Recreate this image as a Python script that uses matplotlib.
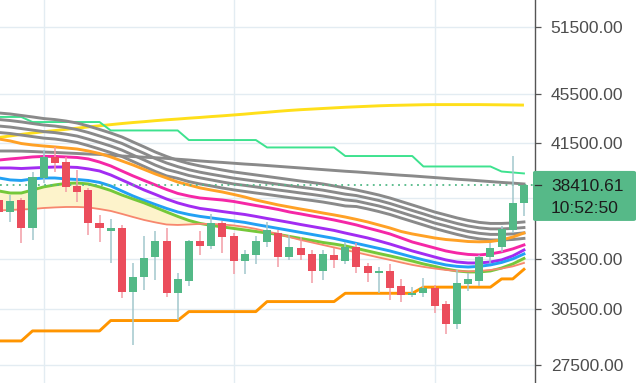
import matplotlib
matplotlib.use("Agg")
import matplotlib.pyplot as plt
from matplotlib.patches import FancyBboxPatch
from matplotlib.lines import Line2D
from matplotlib.ticker import NullLocator, FixedLocator, FixedFormatter

plt.rcParams['font.family'] = ['Liberation Sans', 'DejaVu Sans']

# ---------------- data ----------------
opens = [37350, 36530, 37350, 35460, 38910, 40460, 40080, 38340, 38050, 35790, 35270, 35460,
         31490, 32380, 33600, 34620, 31430, 32140, 34620, 34300, 35790, 34940, 33350, 33730,
         34550, 35130, 33600, 34170, 33790, 32740, 33730, 33350, 34230, 33050, 32620, 32740,
         31840, 31310, 31430, 31720, 30800, 29670, 31960, 32140, 33600, 34230, 35330, 37150]
highs = [37630, 37700, 37490, 39350, 40990, 41220, 40460, 39490, 38200, 36330, 36060, 35660,
         33230, 34940, 35270, 35460, 32620, 34680, 35270, 36400, 35930, 35130, 34040, 34940,
         35860, 35330, 35000, 34870, 34040, 34040, 34170, 34550, 34490, 33230, 32990, 33170,
         32260, 31780, 32320, 31900, 30970, 32800, 32620, 33730, 34490, 35590, 40530, 38410.61]
lows = [36330, 35860, 34490, 34680, 38550, 39350, 37910, 37220, 35000, 34550, 33230, 31140,
        28540, 31610, 32200, 31200, 29890, 31840, 33730, 34110, 33850, 32560, 32560, 33170,
        34230, 32990, 33420, 33420, 32020, 32200, 32920, 33170, 32620, 32080, 31430, 31020,
        30910, 31200, 31200, 30290, 29130, 29400, 31550, 31840, 33230, 33920, 35130, 36260]
closes = [36530, 37280, 35460, 38980, 40460, 40010, 38270, 37910, 35790, 35460, 35460, 31490,
          32380, 33540, 34620, 31430, 32260, 34620, 34300, 35790, 34870, 33350, 33790, 34620,
          35330, 33600, 34230, 33730, 32740, 33790, 33420, 34230, 32990, 32620, 32740, 31720,
          31310, 31430, 31720, 30680, 29670, 32020, 32260, 33600, 34170, 35400, 37150, 38410.61]

ma_yellow = [41950, 42070, 42190, 42300, 42400, 42490, 42590, 42680, 42780, 42870, 42960, 43050,
             43130, 43200, 43280, 43350, 43410, 43480, 43540, 43610, 43670, 43740, 43810, 43890,
             43960, 44040, 44110, 44170, 44220, 44270, 44320, 44370, 44410, 44450, 44490, 44520,
             44540, 44560, 44580, 44590, 44590, 44590, 44590, 44590, 44580, 44570, 44560, 44550]
ma_gray_slow = [40910, 40910, 40900, 40870, 40830, 40800, 40760, 40720, 40680, 40650, 40590, 40530,
                40490, 40440, 40400, 40350, 40290, 40230, 40160, 40100, 40050, 39990, 39930, 39880,
                39820, 39760, 39700, 39640, 39580, 39520, 39460, 39400, 39350, 39290, 39230, 39170,
                39110, 39060, 39000, 38940, 38880, 38820, 38770, 38710, 38650, 38590, 38540, 38480]
ma_gray_1 = [43900, 43820, 43700, 43580, 43450, 43370, 43250, 43090, 42850, 42580, 42300, 41990,
             41600, 41220, 40830, 40500, 40200, 39970, 39790, 39640, 39490, 39350, 39240, 39130,
             39020, 38910, 38800, 38690, 38590, 38480, 38340, 38200, 38050, 37880, 37700, 37490,
             37250, 37010, 36770, 36530, 36330, 36130, 35960, 35830, 35760, 35760, 35790, 35860]
ma_gray_2 = [43370, 43290, 43180, 43050, 42930, 42850, 42730, 42570, 42340, 42070, 41790, 41490,
             41100, 40730, 40340, 40010, 39740, 39510, 39330, 39180, 39040, 38900, 38790, 38680,
             38570, 38460, 38350, 38250, 38150, 38040, 37900, 37760, 37660, 37490, 37320, 37110,
             36870, 36630, 36400, 36160, 35960, 35760, 35590, 35470, 35400, 35400, 35430, 35490]
ma_gray_3 = [42850, 42770, 42650, 42530, 42410, 42330, 42210, 42060, 41820, 41560, 41290, 40980,
             40600, 40230, 39850, 39530, 39320, 39090, 38920, 38770, 38620, 38480, 38380, 38270,
             38160, 38050, 37950, 37840, 37740, 37630, 37500, 37360, 37280, 37110, 36940, 36730,
             36500, 36260, 36030, 35790, 35600, 35400, 35230, 35110, 35040, 35040, 35070, 35140]
ma_gray_4 = [42340, 42260, 42140, 42020, 41900, 41830, 41710, 41560, 41320, 41060, 40790, 40500,
             40120, 39750, 39380, 39060, 38880, 38650, 38480, 38340, 38190, 38060, 37950, 37840,
             37740, 37630, 37520, 37420, 37320, 37210, 37080, 36940, 36900, 36740, 36560, 36360,
             36120, 35890, 35660, 35430, 35230, 35040, 34870, 34750, 34680, 34680, 34710, 34780]
ma_orange = [41830, 41680, 41480, 41370, 41290, 41220, 41140, 41060, 40910, 40720, 40460, 40160,
             39860, 39530, 39200, 38910, 38620, 38410, 38200, 38050, 37910, 37740, 37560, 37350,
             37180, 37010, 36870, 36730, 36600, 36460, 36330, 36190, 36030, 35860, 35660, 35460,
             35230, 35070, 34940, 34810, 34710, 34650, 34580, 34560, 34580, 34680, 34870, 35130]
ma_magenta = [40230, 40310, 40380, 40460, 40500, 40500, 40460, 40420, 40310, 40080, 39790, 39420,
              39060, 38730, 38410, 38090, 37810, 37630, 37490, 37420, 37350, 37250, 37110, 36970,
              36840, 36700, 36530, 36400, 36260, 36130, 35990, 35830, 35660, 35460, 35270, 35070,
              34810, 34550, 34360, 34170, 33980, 33850, 33760, 33730, 33790, 33920, 34110, 34360]
ma_purple = [39640, 39640, 39600, 39640, 39680, 39710, 39710, 39680, 39570, 39420, 39130, 38770,
             38410, 38050, 37740, 37420, 37150, 36940, 36770, 36670, 36560, 36460, 36360, 36230,
             36090, 35960, 35830, 35690, 35560, 35430, 35300, 35130, 34970, 34810, 34620, 34420,
             34200, 33980, 33790, 33600, 33420, 33290, 33230, 33230, 33290, 33420, 33670, 34040]
ma_blue = [38910, 38770, 38730, 38840, 38910, 38910, 38840, 38800, 38730, 38590, 38340, 37980,
           37630, 37320, 37040, 36770, 36530, 36360, 36230, 36130, 36030, 35930, 35830, 35690,
           35560, 35430, 35300, 35170, 35040, 34910, 34780, 34620, 34460, 34300, 34140, 33980,
           33790, 33600, 33420, 33260, 33110, 33020, 32980, 33020, 33110, 33260, 33480, 33790]
ma_green = [37980, 37840, 37840, 38050, 38270, 38410, 38520, 38550, 38480, 38270, 38020, 37700,
            37420, 37150, 36840, 36530, 36230, 35960, 35760, 35630, 35530, 35430, 35330, 35230,
            35130, 35040, 34910, 34780, 34650, 34520, 34420, 34300, 34140, 33980, 33820, 33670,
            33510, 33350, 33170, 33020, 32860, 32740, 32680, 32680, 32740, 32920, 33170, 33510]
ma_salmon = [36630, 36670, 36700, 36730, 36800, 36840, 36870, 36870, 36840, 36730, 36600, 36400,
             36190, 35990, 35830, 35690, 35660, 35690, 35730, 35730, 35690, 35630, 35530, 35400,
             35230, 35070, 34870, 34680, 34520, 34360, 34200, 34040, 33890, 33730, 33570, 33420,
             33260, 33110, 32990, 32890, 32800, 32740, 32710, 32740, 32800, 32890, 33020, 33230]
channel_upper = [43580, 43580, 43580, 43170, 43170, 43170, 43170, 43170, 43170, 43170, 42500, 42500,
                 42500, 42500, 42500, 42500, 42500, 41750, 41750, 41750, 41750, 41750, 41750, 41750,
                 41180, 41180, 41180, 41180, 41180, 41180, 41180, 40530, 40530, 40530, 40530, 40530,
                 40530, 40530, 39750, 39750, 39750, 39750, 39750, 39750, 39750, 39380, 39310, 39240]
channel_lower = [28750, 28750, 28750, 29290, 29290, 29290, 29290, 29290, 29290, 29290, 29860, 29860,
                 29860, 29860, 29860, 29860, 29860, 30360, 30360, 30360, 30360, 30360, 30360, 30360,
                 30930, 30930, 30930, 30930, 30930, 30930, 30930, 31410, 31410, 31410, 31410, 31410,
                 31410, 31410, 31770, 31770, 31770, 31770, 31770, 31770, 31770, 32260, 32260, 32840]

price_ticks = [27500, 30500, 33500, 41500, 45500, 51500]
hidden_grid_prices = [37500]
vertical_grid_bars = [4, 21, 39]
last_price = 38410.61
countdown = "10:52:50"

# ---------------- figure ----------------
W, H = 641, 383
fig = plt.figure(figsize=(W / 100, H / 100), dpi=100)
fig.patch.set_facecolor('white')
ax = fig.add_axes([0, 0, 535 / W, 1])
ax.set_facecolor('white')
ax.set_yscale('log')
ax.set_ylim(26590, 54150)
ax.set_xlim(0.09, 47.99)

x = list(range(len(closes)))

grid_c = '#e3ecf2'
for v in price_ticks + hidden_grid_prices:
    ax.axhline(v, color=grid_c, lw=1.0, zorder=0)
for b in vertical_grid_bars:
    ax.axvline(b, color=grid_c, lw=1.0, zorder=0)

ax.fill_between(x, ma_green, ma_salmon, color='#fdf3cb', lw=0, zorder=1)

lw_main = 2.1
ax.plot(x, ma_yellow, color='#ffdf1a', lw=lw_main, zorder=2, solid_capstyle='butt')
ax.plot(x, channel_upper, color='#3ee28f', lw=1.4, zorder=2)
ax.plot(x, channel_lower, color='#ff9500', lw=lw_main, zorder=2)
for g in (ma_gray_slow, ma_gray_1, ma_gray_2, ma_gray_3, ma_gray_4):
    ax.plot(x, g, color='#8a8a8a', lw=lw_main, zorder=2)
ax.plot(x, ma_orange, color='#ffa126', lw=lw_main, zorder=2)
ax.plot(x, ma_magenta, color='#f527a6', lw=lw_main, zorder=2)
ax.plot(x, ma_purple, color='#a22cf2', lw=lw_main, zorder=2)
ax.plot(x, ma_blue, color='#22a1f4', lw=lw_main, zorder=2)
ax.plot(x, ma_green, color='#75c83a', lw=lw_main, zorder=2)
ax.plot(x, ma_salmon, color='#f7876e', lw=1.3, zorder=2)

ax.axhline(last_price, color='#53b987', lw=1.3, ls=(0, (1, 2.5)), zorder=2)

up_c, dn_c = '#53b987', '#eb4d5c'
up_w, dn_w = '#a2c7cd', '#f39ca5'
body_col = [up_c if c >= o else dn_c for o, c in zip(opens, closes)]
wick_col = [up_w if c >= o else dn_w for o, c in zip(opens, closes)]
ax.vlines(x, lows, highs, colors=wick_col, lw=1.1, zorder=3)
bottoms = [min(o, c) for o, c in zip(opens, closes)]
heights = [abs(c - o) for o, c in zip(opens, closes)]
ax.bar(x, heights, bottom=bottoms, width=0.72, color=body_col, lw=0, zorder=4)

for s in ('top', 'left', 'bottom'):
    ax.spines[s].set_visible(False)
ax.spines['right'].set_color('#555555')
ax.spines['right'].set_linewidth(1.0)
ax.set_xticks([])
ax.yaxis.tick_right()
ax.yaxis.set_major_locator(FixedLocator(price_ticks))
ax.yaxis.set_major_formatter(FixedFormatter([f"{v:.2f}" for v in price_ticks]))
ax.yaxis.set_minor_locator(NullLocator())
ax.tick_params(axis='y', length=4.3, width=0.9, color='#555555', pad=7,
               labelsize=12.5, labelcolor='#4d4d4d')

# price label on the scale
y_disp = ax.transData.transform((0, last_price))[1]
box = FancyBboxPatch((533 / W, (y_disp - 36) / H), 103 / W, 50 / H,
                     boxstyle="round,pad=0,rounding_size=0.004",
                     transform=fig.transFigure, facecolor='#56b988', edgecolor='none')
fig.patches.append(box)
fig.add_artist(Line2D([535 / W, 541 / W], [y_disp / H, y_disp / H], transform=fig.transFigure,
                      color='#333333', lw=0.9))
fig.text(551 / W, y_disp / H, f"{last_price:.2f}", ha='left', va='center_baseline',
         fontsize=12.5, color='#1c1c1c')
fig.text(551 / W, (y_disp - 22) / H, countdown, ha='left', va='center_baseline',
         fontsize=12.5, color='#1c1c1c')

fig.savefig('out.png', dpi=100)
